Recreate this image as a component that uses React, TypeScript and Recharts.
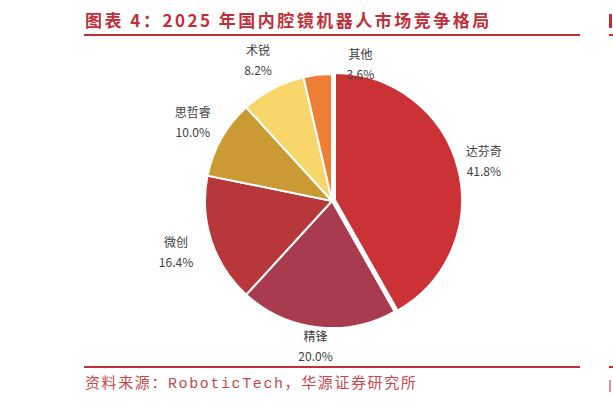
import React from "react";
import { PieChart, Pie, Cell } from "recharts";

// 2025 domestic laparoscopic surgical robot market share (%)
const companies = ["达芬奇", "精锋", "微创", "思哲睿", "术锐", "其他"];
const shares = [41.8, 20.0, 16.4, 10.0, 8.2, 3.6];
const sliceColors = ["#CB3235", "#A93B4F", "#B8373A", "#CC9A33", "#F8D66A", "#EE7E33"];

const pieData = companies.map((name, i) => ({ name, value: shares[i] }));

const RED = "#C0303A";
const RAD = Math.PI / 180;

// label distance from center + small horizontal nudge (Excel "best fit" look)
const labelRadius = [157, 146, 164, 160, 159, 138];
const labelNudge = [0, 0, 0, 0, 0, 44];

const renderLabel = (props: any) => {
  const { cx, cy, midAngle, index, name, value } = props;
  const r = labelRadius[index];
  const x = cx + r * Math.cos(-midAngle * RAD) + labelNudge[index];
  const y = cy + r * Math.sin(-midAngle * RAD);
  return (
    <g>
      <text x={x} y={y - 5} textAnchor="middle" fontSize={12} fill="#404040" fontFamily="'Noto Sans CJK SC', sans-serif">
        {name}
      </text>
      <text x={x} y={y + 15} textAnchor="middle" fontSize={12} fill="#404040" fontFamily="'Noto Sans CJK SC', sans-serif">
        {`${Number(value).toFixed(1)}%`}
      </text>
    </g>
  );
};

export default function App() {
  return (
    <div style={{ position: "absolute", left: 0, top: 0, width: 613, height: 406, background: "#fff", overflow: "hidden" }}>
      <div style={{ position: "absolute", left: 85, top: 10, fontSize: 17, lineHeight: "20px", fontWeight: 700, color: RED, letterSpacing: 2.5, whiteSpace: "nowrap", fontFamily: "'Noto Sans CJK SC', sans-serif" }}>
        图表 4：2025 年国内腔镜机器人市场竞争格局
      </div>
      {/* edge of the next panel */}
      <div style={{ position: "absolute", left: 609, top: 14, width: 3, height: 14, background: RED }} />
      <div style={{ position: "absolute", left: 84, top: 34, width: 496, height: 2, background: RED }} />
      <div style={{ position: "absolute", left: 609, top: 34, width: 10, height: 2, background: RED }} />

      <div style={{ position: "absolute", left: 0, top: 0 }}>
        <PieChart width={613} height={406} margin={{ top: 0, right: 0, bottom: 0, left: 0 }}>
          <Pie
            data={pieData}
            dataKey="value"
            nameKey="name"
            cx={332}
            cy={201}
            outerRadius={127}
            startAngle={90}
            endAngle={-270}
            stroke="#fff"
            strokeWidth={2}
            label={renderLabel}
            labelLine={false}
            isAnimationActive={false}
          >
            {pieData.map((d, i) => (
              <Cell key={d.name} fill={i === 0 ? "none" : sliceColors[i]} stroke={i === 0 ? "none" : "#fff"} />
            ))}
          </Pie>
          {/* exploded 达芬奇 slice */}
          <Pie
            data={pieData}
            dataKey="value"
            nameKey="name"
            cx={335}
            cy={200}
            outerRadius={127}
            startAngle={90}
            endAngle={-270}
            stroke="#fff"
            strokeWidth={2}
            isAnimationActive={false}
          >
            {pieData.map((d, i) => (
              <Cell key={d.name} fill={i === 0 ? sliceColors[0] : "none"} stroke={i === 0 ? "#fff" : "none"} />
            ))}
          </Pie>
        </PieChart>
      </div>

      <div style={{ position: "absolute", left: 84, top: 366, width: 496, height: 2, background: RED }} />
      <div style={{ position: "absolute", left: 609, top: 366, width: 10, height: 2, background: RED }} />
      <div style={{ position: "absolute", left: 85, top: 376, fontSize: 15, lineHeight: "18px", color: "#C44A50", letterSpacing: 1.6, whiteSpace: "nowrap", fontFamily: "'Liberation Mono', 'Noto Sans CJK SC', monospace" }}>
        资料来源：RoboticTech，华源证券研究所
      </div>
      <div style={{ position: "absolute", left: 609, top: 380, width: 2, height: 12, background: "#C44A50", opacity: 0.6 }} />
    </div>
  );
}
